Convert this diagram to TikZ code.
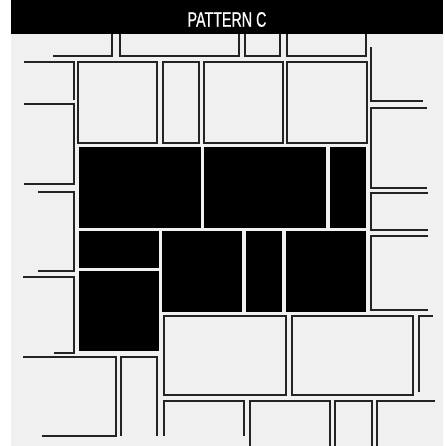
\documentclass[tikz,border=0pt]{standalone}
\usepackage{fontspec}
\setmainfont{Liberation Sans}
\newfontfamily\titlefont[FakeBold=0.8]{Liberation Sans}
\usepackage{graphicx}
\definecolor{bg}{RGB}{239,240,239}
\definecolor{ink}{RGB}{35,35,35}
\begin{document}
\begin{tikzpicture}[x=1pt,y=-1pt,
  paver/.style={draw=ink,line width=1.3pt,line join=miter},
  darkpaver/.style={fill=black}]
\useasboundingbox (0,0) rectangle (444,446);
\fill[white] (0,0) rectangle (444,446);
\fill[bg] (11,34) rectangle (443,446);
\fill[black] (11,0) rectangle (443,34);
\node[text=white,inner sep=0pt] (title) at (227,19.5) {\titlefont\fontsize{21}{21}\selectfont\scalebox{0.68}[1]{PATTERN C}};
% top row
\draw[paver] (53,56) -- (112,56) -- (112,34);
\draw[paver] (120,34) -- (120,56) -- (239,56) -- (239,34);
\draw[paver] (245,34) -- (245,56) -- (280,56) -- (280,34);
\draw[paver] (287,34) -- (287,56) -- (366,56) -- (366,34);
% left column
\draw[paver] (24,62) -- (74,62) -- (74,100);
\draw[paver] (24,104) -- (74,104) -- (74,184) -- (24,184);
\draw[paver] (38,192) -- (74,192) -- (74,271) -- (38,271);
\draw[paver] (23,277) -- (74,277) -- (74,353) -- (54,353);
\draw[paver] (23,357) -- (116,357) -- (116,436) -- (42,436);
\draw[paver] (121,436) -- (121,357) -- (157,357) -- (157,436);
% row 2 white
\draw[paver] (78,62) rectangle (157,143);
\draw[paver] (163,62) rectangle (199,143);
\draw[paver] (204,62) rectangle (283,143);
\draw[paver] (287,62) rectangle (367,143);
% right column
\draw[paver] (371,47) -- (371,101) -- (423,101);
\draw[paver] (427,108) -- (371,108) -- (371,188) -- (427,188);
\draw[paver] (428,193) -- (371,193) -- (371,230) -- (428,230);
\draw[paver] (428,236) -- (371,236) -- (371,310) -- (428,310);
% black pavers
\fill[darkpaver] (79,147) rectangle (201,228);
\fill[darkpaver] (204,147) rectangle (326,228);
\fill[darkpaver] (330,147) rectangle (366,228);
\fill[darkpaver] (79,231) rectangle (159,268);
\fill[darkpaver] (79,271) rectangle (159,351);
\fill[darkpaver] (162,231) rectangle (242,312);
\fill[darkpaver] (246,231) rectangle (282,312);
\fill[darkpaver] (286,231) rectangle (366,312);
% row 5
\draw[paver] (164,316) rectangle (286,395);
\draw[paver] (292,316) rectangle (413,395);
\draw[paver] (419,392) -- (419,316) -- (433,316);
% row 6
\draw[paver] (164,436) -- (164,401) -- (244,401) -- (244,436);
\draw[paver] (250,446) -- (250,401) -- (330,401) -- (330,446);
\draw[paver] (335,446) -- (335,401) -- (372,401) -- (372,446);
\draw[paver] (377,446) -- (377,401) -- (435,401);
\end{tikzpicture}
\end{document}
